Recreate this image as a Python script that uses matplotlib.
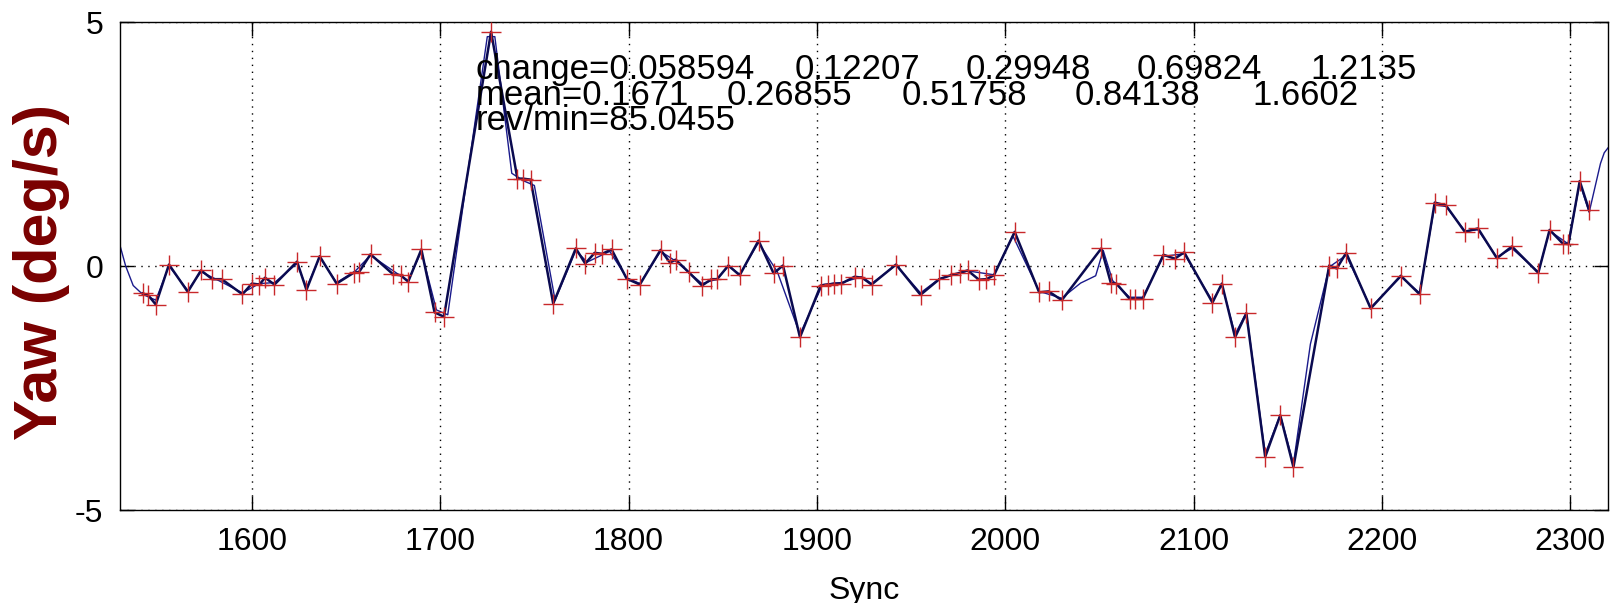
import matplotlib
matplotlib.use("Agg")
import matplotlib.pyplot as plt

plt.rcParams['font.family'] = ['Liberation Sans', 'DejaVu Sans']
plt.rcParams['axes.unicode_minus'] = False

# Sampled yaw-rate points (red + markers, joined by the dark line)
sync = [1542, 1545, 1549, 1556, 1566, 1573, 1579, 1584, 1595, 1600, 1604, 1607,
        1612, 1624, 1629, 1636, 1645, 1654, 1657, 1663, 1675, 1679, 1683, 1690,
        1697, 1702, 1727, 1741, 1744, 1748, 1760, 1772, 1777, 1782, 1786, 1791,
        1799, 1806, 1817, 1822, 1825, 1832, 1839, 1844, 1847, 1853, 1859, 1869,
        1877, 1882, 1891, 1902, 1906, 1909, 1913, 1920, 1924, 1929, 1942, 1955,
        1965, 1971, 1976, 1980, 1986, 1990, 1994, 2005, 2018, 2023, 2030, 2051,
        2056, 2059, 2066, 2069, 2073, 2084, 2090, 2095, 2110, 2115, 2122, 2128,
        2138, 2146, 2153, 2172, 2176, 2181, 2194, 2210, 2220, 2228, 2234, 2244,
        2251, 2261, 2269, 2283, 2289, 2296, 2299, 2305, 2310]
yaw = [-0.56, -0.60, -0.79, 0.03, -0.53, -0.09, -0.27, -0.27, -0.58, -0.36, -0.38, -0.24,
       -0.38, 0.09, -0.49, 0.20, -0.36, -0.14, -0.12, 0.24, -0.17, -0.19, -0.32, 0.34,
       -0.95, -1.04, 4.80, 1.79, 1.79, 1.77, -0.77, 0.36, 0.05, 0.27, 0.25, 0.34,
       -0.26, -0.38, 0.33, 0.07, 0.13, -0.13, -0.40, -0.27, -0.27, 0.01, -0.19, 0.52,
       -0.15, 0.01, -1.46, -0.40, -0.38, -0.36, -0.36, -0.22, -0.24, -0.38, 0.03, -0.59,
       -0.27, -0.19, -0.14, -0.09, -0.28, -0.27, -0.19, 0.70, -0.54, -0.52, -0.70, 0.36,
       -0.34, -0.36, -0.67, -0.67, -0.67, 0.23, 0.15, 0.28, -0.75, -0.36, -1.46, -0.97,
       -3.91, -3.06, -4.12, 0.01, -0.05, 0.27, -0.87, -0.20, -0.58, 1.30, 1.24, 0.70,
       0.77, 0.16, 0.40, -0.14, 0.74, 0.46, 0.45, 1.74, 1.14]

# Smoothed curve (thin blue line)
smooth_sync = [1530, 1533, 1537, 1542, 1549, 1556, 1566, 1573, 1581, 1595, 1604, 1612,
               1624, 1629, 1636, 1645, 1655, 1663, 1677, 1683, 1690, 1698, 1704, 1712,
               1725, 1729, 1738, 1744, 1750, 1761, 1772, 1778, 1790, 1799, 1806, 1817,
               1825, 1839, 1847, 1853, 1859, 1869, 1879, 1891, 1903, 1913, 1924, 1929,
               1942, 1955, 1965, 1980, 1994, 2004, 2018, 2030, 2040, 2048, 2052, 2057,
               2066, 2073, 2084, 2095, 2110, 2115, 2122, 2128, 2138, 2146, 2153, 2162,
               2172, 2181, 2194, 2210, 2220, 2228, 2234, 2244, 2251, 2261, 2269, 2283,
               2289, 2299, 2305, 2310, 2313, 2316, 2318, 2320]
smooth_yaw = [0.42, 0.0, -0.40, -0.58, -0.70, 0.00, -0.50, -0.12, -0.27, -0.55, -0.36, -0.34,
              0.05, -0.45, 0.18, -0.34, -0.10, 0.22, -0.15, -0.30, 0.30, -0.90, -1.00, 1.20,
              4.70, 4.70, 1.90, 1.75, 1.65, -0.70, 0.32, 0.08, 0.30, -0.24, -0.36, 0.30,
              0.10, -0.36, -0.27, 0.00, -0.17, 0.48, -0.12, -1.40, -0.38, -0.34, -0.22, -0.36,
              0.02, -0.55, -0.26, -0.10, -0.18, 0.62, -0.52, -0.66, -0.35, -0.20, 0.32, -0.30,
              -0.64, -0.64, 0.20, 0.25, -0.72, -0.38, -1.40, -0.95, -3.85, -3.05, -4.05, -1.60,
              -0.02, 0.22, -0.85, -0.22, -0.55, 1.25, 1.22, 0.72, 0.74, 0.18, 0.36, -0.12,
              0.72, 0.45, 1.70, 1.10, 1.60, 2.10, 2.32, 2.42]

xticks = [1600, 1700, 1800, 1900, 2000, 2100, 2200, 2300]
yticks = [-5, 0, 5]

change_vals = ["change=0.058594", "0.12207", "0.29948", "0.69824", "1.2135"]
change_x = [1719, 1888, 1979, 2070, 2162]
mean_vals = ["mean=0.1671", "0.26855", "0.51758", "0.84138", "1.6602"]
mean_x = [1719, 1852, 1945, 2037, 2131]
rev_text = "rev/min=85.0455"

fig = plt.figure(figsize=(16.12, 6.03), dpi=100)
ax = fig.add_axes([120/1612, 1 - 510/603, 1488/1612, 488/603])

ax.plot(smooth_sync, smooth_yaw, color='#1a1a8c', lw=1.0, zorder=2)
ax.plot(sync, yaw, color='#0a0a50', lw=1.8, zorder=3)
ax.plot(sync, yaw, ls='none', marker='+', color='#c8282a', markersize=14,
        markeredgewidth=1.0, zorder=4)

ax.set_xlim(1530, 2320)
ax.set_ylim(-5, 5)
ax.set_xticks(xticks)
ax.set_yticks(yticks)
ax.grid(True, color='black', linestyle=(0, (1, 4)), linewidth=1.0)
ax.tick_params(direction='in', length=10, width=1, top=True, right=True,
               labelsize=23, pad=12)
for s in ax.spines.values():
    s.set_linewidth(1.0)

ax.set_xlabel('Sync', fontsize=23, labelpad=14)
ax.set_ylabel('Yaw (deg/s)', fontsize=44, fontweight='bold', color='#7a0000',
              va='center')
ax.yaxis.set_label_coords(-0.053, 0.488)

for t, x in zip(change_vals, change_x):
    ax.text(x, 4.03, t, fontsize=25, va='center', ha='left')
for t, x in zip(mean_vals, mean_x):
    ax.text(x, 3.50, t, fontsize=25, va='center', ha='left')
ax.text(1719, 2.99, rev_text, fontsize=25, va='center', ha='left')

fig.savefig('out.png', dpi=100)
